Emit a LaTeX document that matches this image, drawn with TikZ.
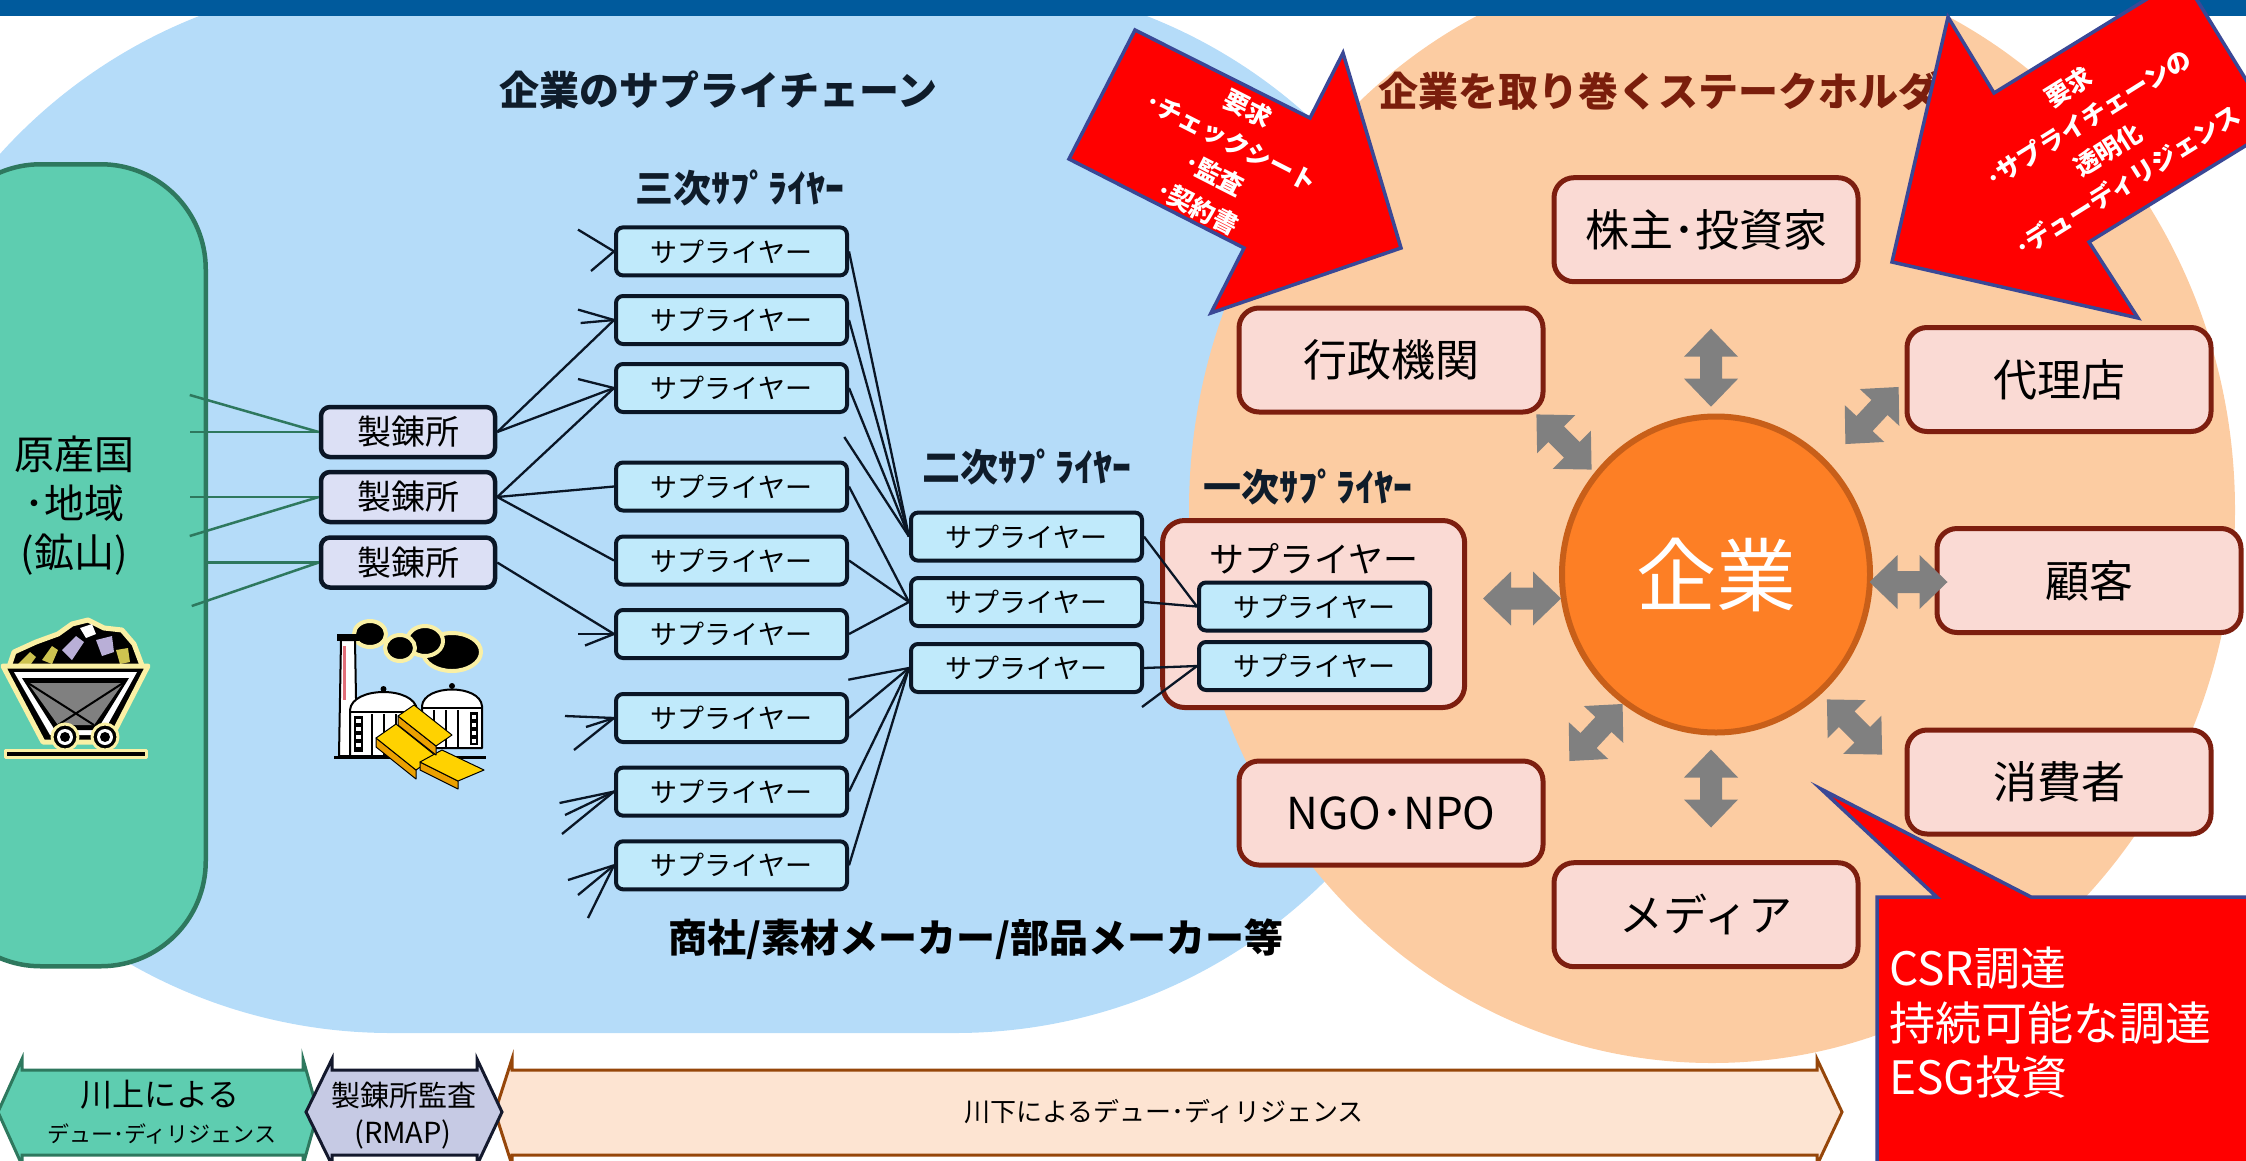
\documentclass[tikz,border=0pt]{standalone}
\usepackage{fontspec}
\setmainfont{Noto Sans CJK JP}
\usetikzlibrary{shapes.geometric}

\definecolor{topbar}{RGB}{0,90,156}
\definecolor{bluebg}{RGB}{181,220,249}
\definecolor{orangebg}{RGB}{252,204,162}
\definecolor{greenfill}{RGB}{94,205,176}
\definecolor{greenline}{RGB}{46,120,94}
\definecolor{supfill}{RGB}{192,234,251}
\definecolor{inkline}{RGB}{10,22,38}
\definecolor{smeltfill}{RGB}{220,224,245}
\definecolor{stakefill}{RGB}{250,218,212}
\definecolor{stakeline}{RGB}{125,30,15}
\definecolor{firmfill}{RGB}{253,127,37}
\definecolor{firmline}{RGB}{200,95,25}
\definecolor{garrowc}{RGB}{128,128,128}
\definecolor{alertred}{RGB}{255,0,0}
\definecolor{alertedge}{RGB}{58,72,150}
\definecolor{titleink}{RGB}{15,28,42}
\definecolor{stakeink}{RGB}{122,30,12}
\definecolor{bandlav}{RGB}{198,202,228}
\definecolor{bandlavline}{RGB}{20,25,45}
\definecolor{bandpeach}{RGB}{253,228,210}
\definecolor{bandpeachline}{RGB}{150,70,10}
\definecolor{glow}{RGB}{250,240,165}
\definecolor{orey}{RGB}{205,195,80}
\definecolor{orep}{RGB}{185,175,215}
\definecolor{goldA}{RGB}{255,210,0}
\definecolor{goldB}{RGB}{235,160,0}
\definecolor{stripe}{RGB}{225,110,120}

\newcommand\jpsize[2]{\fontsize{#1}{#2}\selectfont}

\begin{document}
\begin{tikzpicture}[x=1pt,y=-1pt,
  supbox/.style={draw=inkline, line width=4pt, fill=supfill, rounded corners=7pt,
    minimum width=231pt, minimum height=48pt, inner sep=0pt, font=\jpsize{27}{30}},
  smeltbox/.style={draw=inkline, line width=4.5pt, fill=smeltfill, rounded corners=9pt,
    minimum width=174pt, minimum height=50pt, inner sep=0pt, font=\jpsize{34}{38}},
  stake/.style={draw=stakeline, line width=5pt, fill=stakefill, rounded corners=20pt,
    minimum width=304pt, minimum height=104pt, inner sep=0pt, font=\jpsize{44}{48}},
  feed/.style={draw=inkline, line width=2.3pt},
  ore/.style={draw=greenline, line width=2.5pt},
  tier/.style={font=\bfseries\jpsize{38}{42}, text=titleink, inner sep=0pt},
  heading/.style={font=\bfseries\jpsize{40}{44}, inner sep=0pt},
  redshape/.style={fill=alertred, draw=alertedge, line width=3.5pt, line join=miter},
  reqtext/.style={text=white, font=\bfseries\jpsize{25}{37}, align=center, inner sep=0pt},
  bandshape/.style={line width=3pt, line join=miter},
  pics/garrow/.style={code={
    \fill[garrowc] (-39,0) -- (-11,-27) -- (-11,-11) -- (11,-11) -- (11,-27) -- (39,0)
      -- (11,27) -- (11,11) -- (-11,11) -- (-11,27) -- cycle;}}
]
\useasboundingbox (0,0) rectangle (2246,1160);
\clip (0,0) rectangle (2246,1160);

% backgrounds: supply-chain field and stakeholder field
\fill[bluebg] (391,-20) -- (955,-20) arc[start angle=-90, end angle=90, radius=526.5]
  -- (391,1033) arc[start angle=90, end angle=270, radius=526.5] -- cycle;
\fill[orangebg] (1712,510) ellipse[x radius=523, y radius=553];
\fill[topbar] (0,0) rectangle (2246,16);

% country of origin
\node[draw=greenline, line width=4.5pt, fill=greenfill, rounded corners=105pt,
  minimum width=270pt, minimum height=802pt, anchor=north east, inner sep=0pt]
  (minebox) at (208,162) {};
\node[font=\jpsize{40}{49}, align=center, inner sep=0pt] (minelabel) at (74,506)
  {原産国\\･地域\\(鉱山)};

% smelters
\node[smeltbox] (m1) at (408,432) {製錬所};
\node[smeltbox] (m2) at (408,497) {製錬所};
\node[smeltbox] (m3) at (408,562.5) {製錬所};
\draw[ore] (m1.west) -- ++(-129,-37);
\draw[ore] (m1.west) -- ++(-129,0);
\draw[ore] (m2.west) -- ++(-129,0);
\draw[ore] (m2.west) -- ++(-129,39);
\draw[ore] (m3.west) -- ++(-111,0);
\draw[ore] (m3.west) -- ++(-127,43.5);

% mine cart
\begin{scope}[line join=round]
\path[fill=black, draw=glow, line width=5pt] (8,670) -- (14,652) -- (36,642) -- (58,634)
  -- (72,624) -- (88,620) -- (104,628) -- (122,630) -- (134,644) -- (143,668) -- cycle;
\fill[orey] (18,664) -- (30,652) -- (36,657) -- (28,668) -- cycle;
\fill[orey] (42,660) -- (52,646) -- (58,650) -- (52,664) -- cycle;
\fill[orep] (62,650) -- (76,636) -- (84,642) -- (72,660) -- cycle;
\fill[white] (80,628) -- (92,624) -- (96,634) -- (86,638) -- cycle;
\fill[orep] (96,640) -- (112,636) -- (114,652) -- (102,656) -- cycle;
\fill[orey] (116,650) -- (128,648) -- (130,662) -- (120,664) -- cycle;
\path[fill=black, draw=glow, line width=5pt] (3,666) -- (148,666) -- (109,742) -- (43,742) -- cycle;
\fill[white] (14,672) -- (137,672) -- (102,735) -- (50,735) -- cycle;
\fill[black] (22,678) -- (129,678) -- (97,730) -- (55,730) -- cycle;
\fill[gray] (28,683) -- (123,683) -- (94,725) -- (58,725) -- cycle;
\draw[black, line width=2pt] (28,683) -- (94,725) (123,683) -- (58,725);
\foreach \wx in {65,105} {
  \path[fill=black, draw=glow, line width=3pt] (\wx,737) circle[radius=13];
  \fill[white] (\wx,737) circle[radius=8];
  \fill[black] (\wx,737) circle[radius=5];
}
\path[fill=black, draw=glow, line width=3pt] (5,750) rectangle (146,757);
\end{scope}

% smelter plant
\begin{scope}[line join=round]
\path[fill=black, draw=glow, line width=4pt] (452,652) ellipse[x radius=29, y radius=19];
\path[fill=black, draw=glow, line width=4pt] (425,641) ellipse[x radius=18, y radius=15];
\path[fill=black, draw=glow, line width=4pt] (400,648) ellipse[x radius=15, y radius=13];
\path[fill=black, draw=glow, line width=4pt] (370,634) ellipse[x radius=16, y radius=13];
\path[fill=white, draw=black, line width=2pt] (341,640) -- (355,640) -- (357,756) -- (339,756) -- cycle;
\fill[black] (337,634) rectangle (359,641);
\fill[stripe] (343,646) rectangle (346,700);
\path[fill=white, draw=black, line width=2pt] (350,756) -- (350,710)
  .. controls (352,686) and (415,686) .. (417,710) -- (417,756) -- cycle;
\draw[black, line width=2pt] (350,712) -- (417,712);
\foreach \sx in {372,384,396,408} \draw[black, line width=1.5pt] (\sx,714) -- (\sx,756);
\fill[black] (354,716) rectangle (363,752);
\foreach \yy in {719,727,735,743} \fill[white] (356,\yy) rectangle (361,\yy+4);
\fill[black] (383.5,689) circle[radius=3];
\path[fill=white, draw=black, line width=2pt] (422,748) -- (422,706)
  .. controls (424,684) and (480,684) .. (482,706) -- (482,748) -- cycle;
\draw[black, line width=2pt] (422,708) -- (482,708);
\foreach \sx in {434,446,458} \draw[black, line width=1.5pt] (\sx,710) -- (\sx,748);
\fill[black] (470,712) rectangle (478,745);
\foreach \yy in {715,723,731,739} \fill[white] (472,\yy) rectangle (476,\yy+4);
\fill[black] (452,686) circle[radius=3];
\draw[black, line width=3pt] (334,757) -- (486,757);
\path[fill=goldB, draw=black, line width=1pt] (376,738) -- (416,770) -- (416,779) -- (376,747) -- cycle;
\path[fill=goldA, draw=black, line width=1pt] (376,738) -- (396,724) -- (436,756) -- (416,770) -- cycle;
\path[fill=goldB, draw=black, line width=1pt] (420,762) -- (458,781) -- (458,789) -- (420,770) -- cycle;
\path[fill=goldA, draw=black, line width=1pt] (420,762) -- (442,750) -- (484,770) -- (458,781) -- cycle;
\path[fill=goldB, draw=black, line width=1pt] (398,716) -- (436,746) -- (436,755) -- (398,725) -- cycle;
\path[fill=goldA, draw=black, line width=1pt] (398,716) -- (414,705) -- (452,735) -- (436,746) -- cycle;
\end{scope}

% tier titles
\node[heading, text=titleink] (chaintitle) at (718,90) {企業のサプライチェーン};
\node[tier] (tier3title) at (740,188) {三次ｻﾌﾟﾗｲﾔｰ};
\node[tier] (tier2title) at (1027,467) {二次ｻﾌﾟﾗｲﾔｰ};
\node[tier] (tier1title) at (1308,487) {一次ｻﾌﾟﾗｲﾔｰ};
\node[heading, text=stakeink, anchor=west] (staketitle) at (1378,91) {企業を取り巻くステークホルダー};
\node[heading, text=black, font=\bfseries\jpsize{39}{44}] (tradetitle) at (976,939) {商社/素材メーカー/部品メーカー等};

% third-tier suppliers
\node[supbox] (s1) at (731.5,251.4) {サプライヤー};
\node[supbox] (s2) at (731.5,320) {サプライヤー};
\node[supbox] (s3) at (731.5,388) {サプライヤー};
\node[supbox] (s4) at (731.5,486.5) {サプライヤー};
\node[supbox] (s5) at (731.5,560.5) {サプライヤー};
\node[supbox] (s6) at (731.5,634) {サプライヤー};
\node[supbox] (s7) at (731.5,718) {サプライヤー};
\node[supbox] (s8) at (731.5,791.6) {サプライヤー};
\node[supbox] (s9) at (731.5,865.3) {サプライヤー};

% second-tier suppliers
\node[supbox] (t1) at (1026.5,536.6) {サプライヤー};
\node[supbox] (t2) at (1026.5,602) {サプライヤー};
\node[supbox] (t3) at (1026.5,668) {サプライヤー};

% first-tier supplier group
\node[draw=stakeline, line width=5pt, fill=stakefill, rounded corners=22pt,
  minimum width=302pt, minimum height=187pt, inner sep=0pt] (tier1) at (1313.6,614) {};
\node[font=\jpsize{35}{38}, inner sep=0pt] (tier1label) at (1314,559) {サプライヤー};
\node[supbox] (u1) at (1314.5,606.5) {サプライヤー};
\node[supbox] (u2) at (1314.5,666) {サプライヤー};

% smelter to third tier
\draw[feed] (m1.east) -- (s2.west);
\draw[feed] (m1.east) -- (s3.west);
\draw[feed] (m2.east) -- (s3.west);
\draw[feed] (m2.east) -- (s4.west);
\draw[feed] (m2.east) -- (s5.west);
\draw[feed] (m3.east) -- (s6.west);

% further upstream inflows
\draw[feed] (s1.west) -- ++(-36,-21.8);
\draw[feed] (s1.west) -- ++(-23,19.6);
\draw[feed] (s2.west) -- ++(-36,-10.4);
\draw[feed] (s2.west) -- ++(-33.4,3);
\draw[feed] (s3.west) -- ++(-36,-9);
\draw[feed] (s6.west) -- ++(-36,0);
\draw[feed] (s6.west) -- ++(-29,11.5);
\draw[feed] (s7.west) -- ++(-49,-2);
\draw[feed] (s7.west) -- ++(-28,9);
\draw[feed] (s7.west) -- ++(-40,32);
\draw[feed] (s8.west) -- ++(-54.5,11.4);
\draw[feed] (s8.west) -- ++(-49,23.4);
\draw[feed] (s8.west) -- ++(-52,42.4);
\draw[feed] (s9.west) -- ++(-46,14.7);
\draw[feed] (s9.west) -- ++(-36,29.7);
\draw[feed] (s9.west) -- ++(-26,52.7);

% third tier to second tier
\draw[feed] (s1.east) -- (t1.west);
\draw[feed] (s2.east) -- (t1.west);
\draw[feed] (s3.east) -- (t1.west);
\draw[feed] (t1.west) -- ++(-64.7,-99.6);
\draw[feed] (s4.east) -- (t2.west);
\draw[feed] (s5.east) -- (t2.west);
\draw[feed] (s6.east) -- (t2.west);
\draw[feed] (t3.west) -- ++(-60.7,11.7);
\draw[feed] (s7.east) -- (t3.west);
\draw[feed] (s8.east) -- (t3.west);
\draw[feed] (s9.east) -- (t3.west);

% second tier to first tier
\draw[feed] (t1.east) -- (u1.west);
\draw[feed] (t2.east) -- (u1.west);
\draw[feed] (t3.east) -- (u2.west);
\draw[feed] (u2.west) -- ++(-55,41);

% stakeholders around the company
\node[ellipse, draw=firmline, line width=6pt, fill=firmfill, minimum width=308pt,
  minimum height=316pt, inner sep=0pt, text=white, font=\jpsize{80}{90}] (firm) at (1716,574.5) {企業};
\node[stake] (investor) at (1706,229.7) {株主･投資家};
\node[stake] (govt) at (1391,360) {行政機関};
\node[stake] (agent) at (2059,379.5) {代理店};
\node[stake] (customer) at (2089,580.5) {顧客};
\node[stake] (consumer) at (2059,782) {消費者};
\node[stake] (ngo) at (1391,813) {NGO･NPO};
\node[stake] (media) at (1706,914.7) {メディア};

\pic[rotate=90] at (1711,367.7) {garrow};
\pic[rotate=90] at (1711,788.5) {garrow};
\pic at (1522,598.5) {garrow};
\pic at (1908.5,582) {garrow};
\pic[rotate=-45] at (1564,442) {garrow};
\pic[rotate=47] at (1872,415.5) {garrow};
\pic[rotate=47] at (1596,732.5) {garrow};
\pic[rotate=-45] at (1854.5,727) {garrow};

% demand arrows
\path[redshape] (1135,30) -- (1310,118) -- (1343,53) -- (1401,248) -- (1211,313)
  -- (1244,248) -- (1069,159) -- cycle;
\node[reqtext, rotate=-27] (reqleft) at (1223,158) {要求\\･チェックシート\\･監査\\･契約書};
\path[redshape] (1892,262) -- (1948,17) -- (1994,93) -- (2182.8,-23.1) -- (2275.3,127.4)
  -- (2089,242) -- (2138,318) -- cycle;
\node[reqtext, rotate=32] (reqright) at (2098,134) {要求\\･サプライチェーンの\\透明化\\･デューディリジェンス};

% procurement callout
\path[redshape] (1877,897) -- (1936.7,897) -- (1821,789) -- (2031,897) -- (2260,897)
  -- (2260,1175) -- (1877,1175) -- cycle;
\node[anchor=west, align=left, text=white, font=\jpsize{46}{54.5}, inner sep=0pt] (csr)
  at (1889,1023) {CSR調達\\持続可能な調達\\ESG投資};

% due-diligence band
\path[bandshape, fill=bandpeach, draw=bandpeachline] (495,1112) -- (512,1059) -- (512,1070)
  -- (1817,1070) -- (1817,1059) -- (1842,1112) -- (1817,1165) -- (1817,1155) -- (512,1155)
  -- (512,1165) -- cycle;
\path[bandshape, fill=greenfill, draw=greenline] (-2,1112) -- (22,1059) -- (22,1070)
  -- (303,1070) -- (303,1059) -- (318,1112) -- (303,1165) -- (303,1155) -- (22,1155)
  -- (22,1165) -- cycle;
\path[bandshape, fill=bandlav, draw=bandlavline] (306,1112) -- (332,1059) -- (332,1070)
  -- (477,1070) -- (477,1059) -- (502,1112) -- (477,1165) -- (477,1155) -- (332,1155)
  -- (332,1165) -- cycle;
\node[font=\jpsize{32}{36}, inner sep=0pt] (upstream1) at (160,1095) {川上による};
\node[font=\jpsize{22}{24}, inner sep=0pt] (upstream2) at (162,1134) {デュー･ディリジェンス};
\node[font=\jpsize{29}{32}, inner sep=0pt] (rmap1) at (404,1095) {製錬所監査};
\node[font=\jpsize{29}{32}, inner sep=0pt] (rmap2) at (403,1134) {(RMAP)};
\node[font=\jpsize{26}{30}, inner sep=0pt] (downstream) at (1164,1112) {川下によるデュー･ディリジェンス};
\end{tikzpicture}
\end{document}
